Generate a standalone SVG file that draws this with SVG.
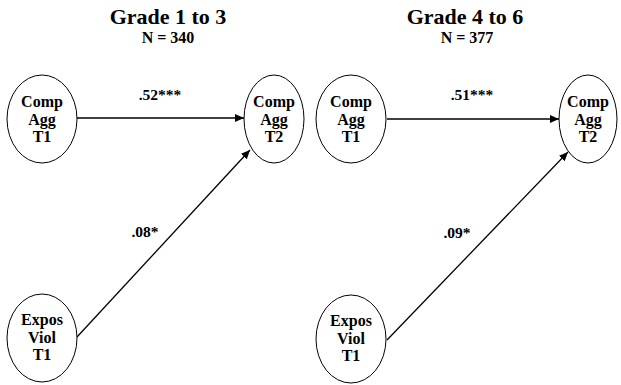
<svg xmlns="http://www.w3.org/2000/svg" width="621" height="385" viewBox="0 0 621 385">
<style>
  .node ellipse { fill: #fff; stroke: #000; stroke-width: 1; }
  .node text { font-family: "Liberation Serif", "Times New Roman", serif; font-weight: bold; font-size: 16px; text-anchor: middle; fill: #000; }
  .title { font-family: "Liberation Serif", "Times New Roman", serif; font-weight: bold; font-size: 22px; text-anchor: middle; fill: #000; }
  .sub { font-family: "Liberation Serif", "Times New Roman", serif; font-weight: bold; font-size: 16px; text-anchor: middle; fill: #000; }
  .lbl { font-family: "Liberation Serif", "Times New Roman", serif; font-weight: bold; font-size: 15.5px; text-anchor: middle; fill: #000; }
  .edge { stroke: #000; stroke-width: 1.3; fill: none; marker-end: url(#arr); }
</style>
<defs>
  <marker id="arr" markerWidth="10" markerHeight="8" refX="9" refY="4" orient="auto" markerUnits="userSpaceOnUse">
    <path d="M0,0 L9,4 L0,8 Z" fill="#000"/>
  </marker>
</defs>
<rect width="621" height="385" fill="#fff"/>

<text class="title" x="168" y="24">Grade 1 to 3</text>
<text class="sub" x="168" y="43">N = 340</text>
<text class="title" x="465" y="24">Grade 4 to 6</text>
<text class="sub" x="467" y="43">N = 377</text>

<g id="connectors">
  <line class="edge" x1="77" y1="118" x2="244" y2="118"/>
  <line class="edge" x1="77" y1="337" x2="250" y2="150"/>
  <line class="edge" x1="387" y1="119" x2="559" y2="119"/>
  <line class="edge" x1="387" y1="340" x2="568" y2="152"/>
  <text class="lbl" x="160" y="100">.52***</text>
  <text class="lbl" x="145" y="237">.08*</text>
  <text class="lbl" x="472" y="100">.51***</text>
  <text class="lbl" x="457" y="238">.09*</text>
</g>

<g id="g13_compagg_t1" class="node">
  <ellipse cx="42" cy="119" rx="35" ry="44"/>
  <text x="42" y="107">Comp</text>
  <text x="42" y="125">Agg</text>
  <text x="42" y="142">T1</text>
</g>
<g id="g13_compagg_t2" class="node">
  <ellipse cx="274" cy="119" rx="30" ry="44"/>
  <text x="274" y="107">Comp</text>
  <text x="274" y="125">Agg</text>
  <text x="274" y="142">T2</text>
</g>
<g id="g13_exposviol_t1" class="node">
  <ellipse cx="42" cy="338" rx="35" ry="44"/>
  <text x="42" y="325">Expos</text>
  <text x="42" y="343">Viol</text>
  <text x="42" y="360">T1</text>
</g>
<g id="g46_compagg_t1" class="node">
  <ellipse cx="351" cy="119" rx="35" ry="44"/>
  <text x="351" y="107">Comp</text>
  <text x="351" y="125">Agg</text>
  <text x="351" y="142">T1</text>
</g>
<g id="g46_compagg_t2" class="node">
  <ellipse cx="588" cy="119" rx="29" ry="44"/>
  <text x="588" y="107">Comp</text>
  <text x="588" y="125">Agg</text>
  <text x="588" y="142">T2</text>
</g>
<g id="g46_exposviol_t1" class="node">
  <ellipse cx="351" cy="339" rx="35" ry="44"/>
  <text x="351" y="326">Expos</text>
  <text x="351" y="344">Viol</text>
  <text x="351" y="361">T1</text>
</g>
</svg>
